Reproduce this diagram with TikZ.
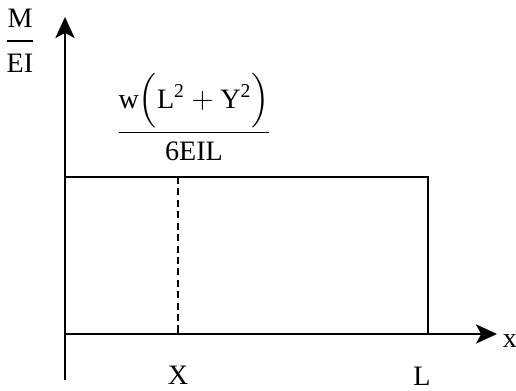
\documentclass[tikz,border=0pt]{standalone}
\usepackage{amsmath}
\usepackage{fontspec}
\setmainfont{Liberation Serif}
\usetikzlibrary{arrows.meta}

\begin{document}
\begin{tikzpicture}[
    x=0.02cm, y=-0.02cm, font=\fontsize{16}{18}\selectfont,
    axis/.style={line width=1pt, -{Stealth[length=12pt,width=11pt,inset=3pt]}},
    edge/.style={line width=1pt},
    cut/.style={line width=0.9pt, dash pattern=on 4pt off 2.5pt},
    lbl/.style={inner sep=1pt}
]
\useasboundingbox (0,0) rectangle (516,390);
% axes
\coordinate (bot) at (65,380);
\coordinate (O) at (65,334);
\coordinate (ytop) at (65,17);
\coordinate (xend) at (497,334);
\draw[axis] (bot) -- (ytop);
\draw[axis] (O) -- (xend);
% M/EI diagram
\coordinate (tl) at (65,177);
\coordinate (tr) at (428,177);
\coordinate (br) at (428,334);
\coordinate (xt) at (178,177);
\coordinate (xb) at (178,334);
\draw[edge] (tl) -- (tr) -- (br);
\draw[cut] (xt) -- (xb);
% labels
\node[lbl] (ylab) at (20,41) {$\dfrac{\text{M}}{\rule{0pt}{15.5pt}\text{EI}}$};
\node[lbl] (xlab) at (510,341) {x};
\node[lbl] (hlab) at (194,117)
  {$\dfrac{\text{w}\Bigl(\text{L}^{\text{2}}+\text{Y}^{\text{2}}\Bigr)}{\text{6EIL}}$};
\node[lbl] (Xlab) at (178,375) {X};
\node[lbl] (Llab) at (422,376) {L};
\end{tikzpicture}
\end{document}
